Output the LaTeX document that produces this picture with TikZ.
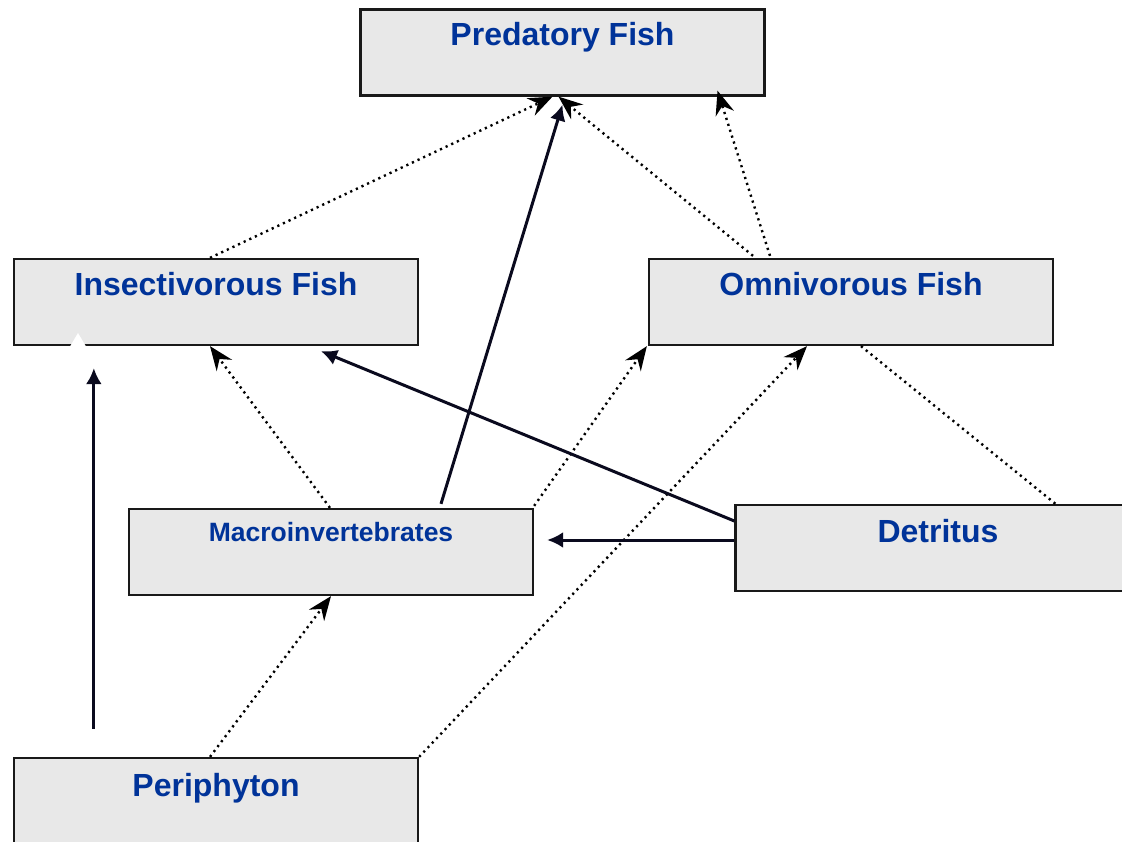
\documentclass[tikz,border=0pt]{standalone}
\usepackage{fontspec}
\setmainfont{Liberation Sans}
\usetikzlibrary{arrows.meta,calc}
\definecolor{boxfill}{HTML}{E8E8E8}
\definecolor{lblblue}{HTML}{003399}
\definecolor{inkline}{HTML}{0A0A1E}
\tikzset{
  box/.style={draw=black!90, line width=2.3pt, fill=boxfill, minimum width=404pt, minimum height=86pt, inner sep=0pt},
  lbl/.style={anchor=base, text=lblblue, font=\bfseries\fontsize{32}{32}\selectfont, inner sep=0pt},
  smalllbl/.style={lbl, font=\bfseries\fontsize{26.5}{26.5}\selectfont},
  feeds/.style={line width=2.4pt, dash pattern=on 2.2pt off 4pt, black,
    -{Stealth[length=24pt, width=19pt, inset=8pt]}},
  link/.style={line width=2.4pt, dash pattern=on 2.2pt off 4pt, black},
  direct/.style={line width=3pt, inkline, -{Latex[length=16pt, width=16pt]}},
}
\begin{document}
\begin{tikzpicture}[x=1pt, y=-1pt]
\useasboundingbox (0,0) rectangle (1122,842);

% trophic compartments
\node[box] (pred)  at (562.5,52.5) {};
\node[box] (ins)   at (216,302)    {};
\node[box] (omni)  at (851,302)    {};
\node[box] (macro) at (331,552)    {};
\node[box] (detr)  at (937.5,548)  {};
\node[box] (peri)  at (216,801)    {};

\node[lbl]      at (562.5,46) {Predatory Fish};
\node[lbl]      at (216,296)  {Insectivorous Fish};
\node[lbl]      at (851,296)  {Omnivorous Fish};
\node[smalllbl] at (331,541)  {Macroinvertebrates};
\node[lbl]      at (938,542)  {Detritus};
\node[lbl]      at (216,796)  {Periphyton};

% dotted feeding links
\draw[feeds] ($(ins.north)+(-6,0)$)    -- ($(pred.south)+(-10,0)$);
\draw[feeds] ($(omni.north)+(-98,-2)$) -- ($(pred.south)+(-4,0)$);
\draw[feeds] ($(omni.north)+(-81,-2)$) -- ($(pred.south)+(155,-6)$);
\draw[feeds] ($(macro.north)+(-1,0)$)  -- ($(ins.south)+(-6,0)$);
\draw[feeds] ($(macro.north east)+(0,-2)$) -- ($(omni.south west)+(-1,0)$);
\draw[feeds] (peri.north east)         -- ($(omni.south)+(-44,0)$);
\draw[feeds] ($(peri.north)+(-6,0)$)   -- (macro.south);
\draw[link]  ($(omni.south)+(10,0)$)   -- ($(detr.north)+(118,0)$);

% solid links
\draw[direct] ($(macro.north)+(110,-4)$) -- ($(pred.south)+(0,8)$);
\draw[direct] ($(detr.west)+(0,-27)$)    -- ($(ins.south)+(105,5)$);
\draw[direct] ($(detr.west)+(0,-8)$)     -- ($(macro.east)+(13,-12)$);
\draw[direct] ($(peri.north west)+(81,-28)$) -- ($(ins.south west)+(81,22)$);

% pale arrowhead on the lower edge of the insectivore box
\fill[white] (70,346.5) -- (78,333) -- (86,346.5) -- cycle;
\end{tikzpicture}
\end{document}
